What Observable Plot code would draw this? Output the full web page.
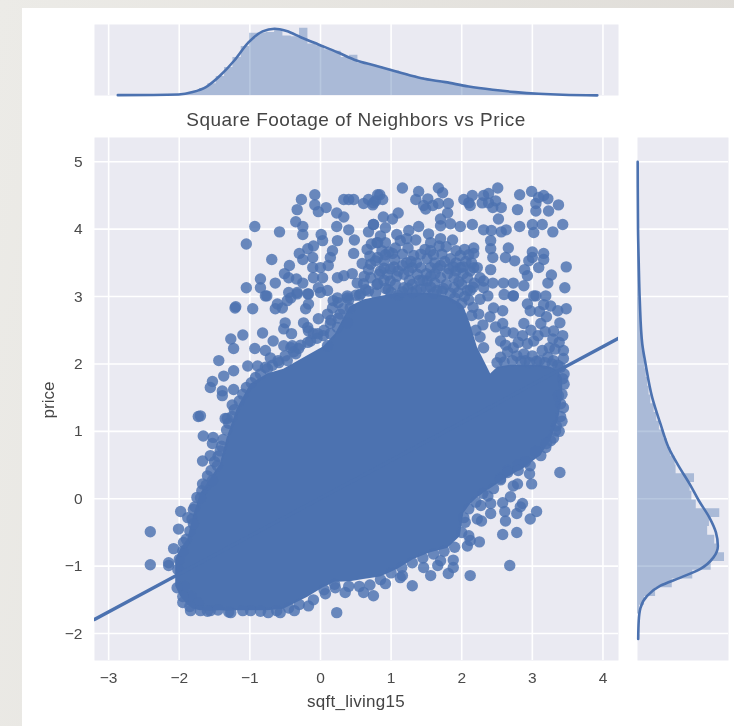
<!DOCTYPE html>
<html>
<head>
<meta charset="utf-8">
<script src="https://cdn.jsdelivr.net/npm/d3@7"></script>
<script src="https://cdn.jsdelivr.net/npm/@observablehq/plot@0.6"></script>
<style>
html,body{margin:0;padding:0;width:734px;height:726px;overflow:hidden;background:linear-gradient(100deg,#ecebe7,#dedbd6);}
#sheet{position:absolute;left:22px;top:8px;right:0;bottom:0;background:#fff;}
#stage{position:absolute;left:0;top:0;width:734px;height:726px;filter:blur(0.45px);font-family:"Liberation Sans",Arial,sans-serif;color:#444;}
#stage>div{position:absolute;margin:0;white-space:nowrap;}
#title{left:94px;top:109px;width:524px;text-align:center;font-size:19px;line-height:22px;letter-spacing:.48px;}
#xlabel{left:94px;top:692px;width:524px;text-align:center;font-size:17px;line-height:20px;letter-spacing:.25px;}
#ylabel{left:49px;top:400px;font-size:17px;line-height:20px;transform:translate(-50%,-50%) rotate(-90deg);}
</style>
</head>
<body>
<div id="sheet"></div>
<div id="stage">
  <div id="title">Square Footage of Neighbors vs Price</div>
  <div id="xlabel">sqft_living15</div>
  <div id="ylabel">price</div>
</div>
<script>
const BLUE = "#4c72b0", PANEL = "#eaeaf2";
const xTicks = [-3,-2,-1,0,1,2,3,4];
const yTicks = [-2,-1,0,1,2,3,4,5];
const xDomain = [-3.2,4.22], yDomain = [-2.4,5.36];
const regressionX = [-3.2,4.22];
const regressionY = [-1.79,2.38];

// envelope of the solid mass of overlapping points
const coreX =     [-2.05,-1.98,-1.88,-1.80,-1.70,-1.56,-1.42,-1.32,-1.18,-0.99,-0.75,-0.52,-0.18,0.04,0.21,0.42,0.61,0.85,1.09,1.32,1.56,1.80,1.98,2.03,2.12,2.22,2.34,2.41,2.51,2.69,2.88,3.12,3.26,3.37,3.43];
const coreLower = [-1.30,-1.45,-1.58,-1.64,-1.66,-1.67,-1.66,-1.67,-1.66,-1.66,-1.66,-1.64,-1.46,-1.32,-1.24,-1.23,-1.20,-1.16,-1.05,-0.90,-0.80,-0.74,-0.56,-0.22,-0.09,0.01,0.10,0.15,0.22,0.34,0.45,0.64,0.86,1.16,1.53];
const coreUpper = [-0.90,-0.75,-0.60,-0.26,0.07,0.29,0.51,0.91,1.33,1.70,1.85,1.92,2.12,2.25,2.44,2.85,2.95,3.00,3.05,3.05,3.05,3.00,2.90,2.85,2.60,2.25,2.00,1.85,1.95,1.98,1.98,1.98,1.95,1.90,1.78];

const upperLeftPoints = [[-0.93,4.04],[-1.05,3.78],[-0.58,3.96],[-0.69,3.55],[-1.05,3.13],[-0.85,3.26],[-0.85,3.13],[-0.76,3.01],[-0.64,3.20],[-0.44,3.46],[-0.51,3.34],[-0.45,3.28],[-0.34,3.26],[-0.45,3.06],[-0.25,3.20],[-0.35,4.11],[-0.33,4.29],[-0.27,4.44],[-0.08,4.51],[-0.08,4.36],[-0.03,4.26],[0.08,4.32],[-0.25,4.04],[-0.25,3.92],[0.01,3.92],[0.23,4.24],[0.33,4.18],[0.23,4.04],[0.40,3.99],[0.48,3.84],[0.68,3.96],[0.75,4.07],[0.40,4.44],[0.33,4.44],[0.47,4.44],[0.61,4.38],[0.68,4.44],[0.74,4.36],[0.81,4.51],[0.78,4.42],[0.03,3.83],[-0.10,3.75],[-0.18,3.71],[-0.30,3.64],[-0.25,3.55],[-0.11,3.58],[-0.11,3.43],[0,3.43],[0.14,3.58],[0.17,3.68],[0.24,3.83],[0.11,3.46],[-0.10,3.28],[0.03,3.28],[-0.03,3.13],[0.24,3.28],[0.33,3.31],[0.45,3.34],[0.47,3.64],[0.59,3.49],[0.81,3.80],[0.81,3.58],[-0.33,3.06],[0.61,3.19],[0.81,3.19],[0.57,3.04],[0.24,2.98],[0.38,3.01],[0.10,3.09],[-0.17,3.04],[0.85,3.38]];

const upperRightPoints = [[1.16,4.61],[1.39,4.56],[1.35,4.44],[1.52,4.45],[1.67,4.61],[1.73,4.54],[0.84,4.51],[0.88,4.44],[0.75,4.39],[1.46,4.35],[1.59,4.35],[1.49,4.30],[1.67,4.38],[1.81,4.38],[1.80,4.24],[2.03,4.44],[2.15,4.50],[2.10,4.39],[2.12,4.35],[2.31,4.50],[2.38,4.53],[2.51,4.61],[2.29,4.39],[2.38,4.39],[2.48,4.42],[2.44,4.32],[2.56,4.32],[2.52,4.15],[2.82,4.51],[2.99,4.56],[2.79,4.29],[3.05,4.38],[3.05,4.27],[3.16,4.50],[3.23,4.27],[3.37,4.36],[3.09,4.47],[3.22,4.45],[0.89,4.18],[1.10,4.24],[1.02,4.15],[0.75,4.07],[0.92,4.02],[1.25,3.98],[1.39,4.04],[1.53,3.93],[1.70,4.05],[1.70,4.15],[1.84,4.08],[1.98,4.04],[2.15,4.07],[2.31,3.99],[2.42,3.98],[2.56,3.96],[2.63,3.99],[2.82,4.04],[3.00,4.07],[3.02,3.95],[3.14,4.07],[3.29,3.96],[3.43,4.07],[1.35,3.84],[1.87,3.84],[1.70,3.86],[1.56,3.80],[2.41,3.83],[2.41,3.71],[2.44,3.58],[2.17,3.72],[2.17,3.64],[2.66,3.72],[2.62,3.58],[2.75,3.53],[3.00,3.66],[3.16,3.64],[3.16,3.55],[3.00,3.58],[2.95,3.53],[3.09,3.43],[3.48,3.44],[2.89,3.40],[2.93,3.31],[3.27,3.32],[3.22,3.20],[3.46,3.13],[2.41,3.40],[2.17,3.43],[2.31,3.23],[2.44,3.20],[2.59,3.20],[2.73,3.20],[2.88,3.16],[3.05,3.01],[3.19,3.01],[2.08,3.09],[2.37,3.01],[2.73,3.01]];

const denseTopPoints = [[0.80,3.80],[0.92,3.80],[0.87,3.68],[0.78,3.53],[0.90,3.53],[1.13,3.83],[1.16,3.63],[1.32,3.61],[1.42,3.63],[1.51,3.56],[1.68,3.75],[1.72,3.63],[1.84,3.56],[1.98,3.61],[1.16,3.46],[1.30,3.43],[1.42,3.43],[1.56,3.43],[1.70,3.46],[1.82,3.41],[1.98,3.43],[2.12,3.38],[2.22,3.43],[0.83,3.33],[0.99,3.23],[1.18,3.33],[1.37,3.33],[1.51,3.23],[1.70,3.28],[1.89,3.28],[2.08,3.28],[2.26,3.28],[0.99,3.41],[0.71,3.48],[0.71,3.28],[0.80,3.18],[1.18,3.13],[1.42,3.11],[1.65,3.09],[1.89,3.13],[2.12,3.09],[2.31,3.13],[2.60,3.03],
[0.85,3.90],[0.97,3.66],[1.05,3.55],[1.06,3.72],[1.24,3.72],[1.28,3.52],[1.48,3.70],[1.60,3.62],[1.62,3.50],[1.78,3.74],[1.92,3.50],[2.06,3.52],[2.10,3.62],[0.66,3.70],[0.70,3.60],[0.96,3.10],[1.08,3.30],[1.10,3.02],[1.26,3.24],[1.30,3.06],[1.45,3.24],[1.56,3.14],[1.62,3.34],[1.78,3.18],[1.80,3.34],[2.00,3.18],[2.18,3.20],[2.04,3.00],[1.90,2.98],[2.16,2.84],[2.26,2.96],[2.24,2.74],[2.30,2.58],[2.20,2.50],[2.26,2.40],[0.68,3.40],[0.95,3.32],[1.25,3.38],[1.56,3.30],[1.92,3.38],[2.02,3.34],
[0.62,3.30],[0.90,3.42],[1.04,3.44],[1.10,3.38],[1.22,3.50],[1.36,3.50],[1.40,3.24],[1.50,3.34],[1.66,3.42],[1.76,3.52],[1.88,3.44],[2.02,3.44],[2.14,3.50],[1.06,3.18],[1.30,3.18],[1.62,3.20],[1.74,3.12],[1.96,3.22],[2.16,3.14],[0.90,3.24],[0.64,3.10],[0.52,3.20],[0.92,3.62],[1.02,3.64],[1.08,3.92],[1.22,3.86],[1.56,3.68],[1.92,3.68],[2.04,3.70],[0.72,3.78],
[0.55,3.02],[0.68,3.08],[0.78,3.05],[0.92,3.12],[1.00,3.06],[1.16,3.07],[1.24,3.12],[1.36,3.09],[1.50,3.12],[1.60,3.05],[1.72,3.08],[1.84,3.05],[1.95,3.06],[2.10,2.95],[2.00,2.90],[2.14,2.72]];

const upperEdgePoints = [[-1.20,2.85],[-1.21,2.83],[-0.96,2.82],[-0.78,3.01],[-1.27,2.37],[-1.10,2.43],[-1.23,2.23],[-0.82,2.46],[-0.93,2.23],[-1.44,2.05],[-1.37,1.82],[-1.23,1.90],[-1.53,1.74],[-1.56,1.65],[-1.39,1.60],[-1.39,1.53],[-1.23,1.62],[-1.25,1.39],[-1.73,1.22],[-1.70,1.23],[-1.35,1.19],[-0.61,2.89],[-0.47,2.94],[-0.64,2.82],[-0.54,2.83],[-0.21,2.82],[-0.17,2.89],[-0.50,2.61],[-0.52,2.52],[-0.41,2.45],[-0.24,2.61],[-0.17,2.49],[-0.67,2.34],[-0.52,2.27],[-0.31,2.23],[-0.40,2.27],[-0.78,2.20],[-0.71,2.09],[-1.03,1.97],[-0.89,1.97],[-0.75,1.93],[-0.59,2.02],[-0.47,2.05],[-0.35,2.15],[0.17,2.83],[0.25,2.91],[0.10,2.74],[-0.03,2.67],[-0.04,2.45],[0.14,2.45],[-0.42,2.98],[-0.18,3.04],[-0.33,3.04],[0,3.06],[0.18,2.94],[0.38,2.98],[0.28,2.74],[0.14,2.60],[0.42,2.83],[-0.18,2.54],[-0.10,2.45],[0.04,2.42],[0.24,2.54],[0.38,2.61],[-0.42,2.24],[-0.14,2.34],[0.10,2.27],
[-2.02,-1.05],[-2.00,-0.90],[-1.95,-0.78],[-1.93,-1.30],[-1.90,-0.60],[-1.85,-0.48],[-1.82,-0.30],[-1.83,-1.45],[-1.78,-0.12],[-1.75,0.02],[-1.73,-1.55],[-1.68,0.12],[-1.62,0.20],[-1.60,0.34],[-1.55,0.42],[-1.50,0.55],[-1.45,0.63],[-1.40,0.78],[-1.38,0.88],[-1.33,1.02],[-1.30,1.12],[-1.25,1.22],[-1.22,1.32],[-1.15,1.45],[-1.10,1.55],[-1.05,1.65],[-0.98,1.72],[-0.92,1.80],[-0.85,1.85],[-0.78,1.95],[-0.68,1.98],[-0.60,2.05],[-0.50,2.12],[-0.38,2.18],[-0.28,2.28],[-0.18,2.32],[-0.05,2.38],[0.05,2.50],[0.15,2.65],[0.25,2.68],[0.32,2.82],[0.40,2.95],[0.50,3.02]];

const rightEdgePoints = [[3.26,2.86],[3.48,2.82],[3.36,2.79],[3.39,2.61],[3.12,2.60],[2.88,2.60],[3.43,2.42],[3.29,2.37],[3.30,2.49],[2.93,2.30],[3.02,2.34],[3.14,2.20],[3.44,2.20],[2.73,2.46],[2.58,2.60],[2.58,2.79],[2.45,2.83],[2.97,2.79],[2.93,2.89],[3.02,3.01],[2.73,3.01],[3.44,2.08],[3.40,1.41],[3.40,1.22],[2.31,2.24],[2.55,2.34],[2.73,2.24],[2.88,2.15],[3.26,0.86],[3.34,1.08],[3.12,0.64],[2.97,0.49],[3.19,0.76],[3.37,1.53],[3.43,1.78],[3.33,1.01],
[2.55,2.10],[2.65,2.18],[2.78,2.12],[2.90,2.05],[3.00,2.12],[3.10,2.05],[3.22,2.10],[3.30,2.05],[3.40,1.95],[3.45,1.85],[3.45,1.70],[3.42,1.55],[3.44,1.35],[3.42,1.15],[3.38,1.00],[3.30,0.90],[3.20,0.82],[3.05,0.70],[2.90,0.55],[2.80,0.50],[2.65,0.42],[2.55,0.30],
[2.40,2.70],[2.48,2.55],[2.62,2.48],[2.86,2.42],[2.98,2.50],[3.08,2.42],[3.18,2.48],[3.20,2.70],[3.10,2.78],[3.16,2.88],[3.38,2.32],[3.24,2.24],[3.32,2.22],[2.62,2.28],[2.80,2.32],
[2.50,2.02],[2.60,2.03],[2.72,2.05],[2.84,2.04],[2.96,2.02],[3.06,2.04],[3.18,2.02],[3.28,2.00],[3.36,1.98]];

const lowerLeftPoints = [[-2.41,-0.49],[-2.41,-0.98],[-2.15,-0.95],[-2.15,-0.99],[-2.01,-0.45],[-1.98,-0.19],[-2.08,-0.74],[-1.94,-0.65],[-2.03,-1.32],[-1.95,-1.54],[-1.88,-0.28],[-1.80,-0.37],[-1.66,0.93],[-1.52,0.91],[-1.53,0.82],[-1.32,1.19],[-1.42,0.71],[-1.56,0.64],[-1.67,0.56],[-1.67,0.22],[-1.46,0.49],[-1.53,0.27],[-1.70,0.01],[-1.80,-0.16]];

const lowerEdgePoints = [[0.23,-1.69],[-0.37,-1.66],[-0.17,-1.59],[-0.57,-1.69],[-0.74,-1.69],[-1.27,-1.69],[-0.99,-1.66],[-1.70,-1.66],[-1.56,-1.66],[-1.84,-1.66],[0.92,-1.26],[0.75,-1.44],[0.61,-1.39],[0.35,-1.39],[0.21,-1.32],[0.07,-1.41],[1.13,-1.17],[1.30,-1.29],[2.12,-1.14],[2.68,-0.99],[1.56,-1.14],[1.81,-1.11],[1.16,-1.14],[1.88,-1.02],[1.88,-0.91],[1.66,-0.99],[1.46,-1.02],[1.70,-0.92],[2.08,-0.70],[2.12,-0.62],[2.25,-0.64],[2.10,-0.55],[2.58,-0.53],[2.78,-0.50],[2.97,-0.30],[3.06,-0.19],[2.78,-0.22],[2.62,-0.33],[2.61,-0.19],[2.28,-0.33],[2.22,-0.30],[2.41,-0.22],[2.03,-0.28],[2.86,-0.07],[2.83,-0.12],[2.69,0.03],[2.58,-0.06],[2.79,0.22],[2.73,0.19],[2.99,0.22],[2.96,0.37],[2.80,0.42],[2.65,0.39],[3.39,0.39],[2.41,-0.07],[2.27,-0.10],[2.37,0.04],
[-1.95,-1.45],[-1.85,-1.60],[-1.60,-1.67],[-1.45,-1.65],[-1.30,-1.68],[-1.10,-1.66],[-0.85,-1.67],[-0.62,-1.66],[-0.45,-1.62],[-0.30,-1.57],[-0.10,-1.50],[0.05,-1.35],[0.20,-1.27],[0.40,-1.30],[0.55,-1.30],[0.70,-1.28],[0.85,-1.20],[1.00,-1.10],[1.15,-1.02],[1.30,-0.95],[1.45,-0.88],[1.60,-0.82],[1.75,-0.78],[1.90,-0.72],[2.00,-0.50],[2.05,-0.35],[2.10,-0.15],[2.20,-0.05],[2.30,0.08],[2.45,0.15],[2.55,0.28]];

const scatterGroups = [upperLeftPoints, upperRightPoints, denseTopPoints, upperEdgePoints, rightEdgePoints, lowerLeftPoints, lowerEdgePoints];

// top marginal (sqft_living15 density)
const topKdeX = [-2.87,-2.01,-1.81,-1.61,-1.42,-1.22,-1.02,-0.82,-0.65,-0.48,-0.28,-0.03,0.24,0.51,0.77,1.11,1.43,1.77,2.10,2.44,2.76,3.09,3.43,3.92];
const topKdeD = [0.002,0.006,0.02,0.053,0.118,0.207,0.314,0.379,0.395,0.381,0.345,0.302,0.256,0.207,0.178,0.138,0.102,0.079,0.053,0.034,0.020,0.010,0.004,0.001];
const topBinStart = -2.42, topBinWidth = 0.118;
const topBinD = [0.001,0.001,0.002,0.003,0.010,0.022,0.041,0.070,0.112,0.165,0.225,0.29,0.368,0.370,0.372,0.385,0.352,0.348,0.398,0.305,0.295,0.27,0.262,0.225,0.238,0.19,0.182,0.172,0.155,0.145,0.13,0.115,0.105,0.095,0.088,0.078,0.068,0.06,0.05,0.044,0.038,0.032,0.027,0.023,0.017,0.014,0.011,0.008,0.006,0.004];

// right marginal (price density)
const rightKdeY = [5,4,3.5,2.94,2.30,2.0,1.50,1.11,0.76,0.44,0.22,-0.03,-0.28,-0.50,-0.70,-0.87,-1.04,-1.17,-1.29,-1.44,-1.62,-1.81,-2.08];
const rightKdeD = [0.001,0.003,0.007,0.013,0.027,0.046,0.084,0.131,0.177,0.245,0.297,0.35,0.41,0.447,0.458,0.433,0.359,0.245,0.131,0.055,0.017,0.007,0.004];
const rightBinStart = -1.71, rightBinWidth = 0.13;
const rightBinD = [0.012,0.04,0.103,0.198,0.315,0.42,0.496,0.454,0.44,0.40,0.41,0.469,0.335,0.31,0.30,0.325,0.22,0.215,0.19,0.17,0.15,0.125,0.11,0.095,0.076,0.066,0.058,0.05,0.042,0.036,0.028,0.024,0.02,0.018,0.016,0.014,0.012,0.010,0.008,0.007,0.006,0.005,0.004,0.003,0.002,0.002,0.001,0.001,0.001];

const coreTable = coreX.map((x,i)=>({x, lo:coreLower[i], hi:coreUpper[i]}));
const scatter = scatterGroups.flat().map(([x,y])=>({x,y}));
const topKde = topKdeX.map((x,i)=>({x,d:topKdeD[i]}));
const topSteps = topBinD.flatMap((d,i)=>[{x:topBinStart+i*topBinWidth,d},{x:topBinStart+(i+1)*topBinWidth,d}]);
const rightKde = rightKdeY.map((y,i)=>({y,d:rightKdeD[i]}));
const rightSteps = rightBinD.flatMap((d,i)=>[{y:rightBinStart+i*rightBinWidth,d},{y:rightBinStart+(i+1)*rightBinWidth,d}]);
const regression = regressionX.map((x,i)=>({x,y:regressionY[i]}));

const baseStyle = {background:"transparent", fontFamily:'"Liberation Sans",Arial,sans-serif', overflow:"visible"};
const grid = {stroke:"white", strokeOpacity:1, strokeWidth:1.6};
const stage = document.getElementById("stage");
function place(svg,left,top){svg.style.left=left+"px";svg.style.top=top+"px";svg.style.position="absolute";stage.appendChild(svg);}
const intLabel = d => d<0 ? "\u2212"+(-d) : String(d);

const main = Plot.plot({
  width:618, height:589, marginLeft:94, marginRight:0, marginTop:0, marginBottom:66,
  style:{...baseStyle, fontSize:"15.5px", color:"#4a4a4a"},
  x:{domain:xDomain, label:null},
  y:{domain:yDomain, label:null},
  marks:[
    Plot.frame({fill:PANEL, stroke:"none"}),
    Plot.gridX(xTicks, grid),
    Plot.gridY(yTicks, grid),
    Plot.areaY(coreTable,{x:"x",y1:"lo",y2:"hi",fill:BLUE}),
    Plot.dot(scatter,{x:"x",y:"y",r:5.7,fill:BLUE,fillOpacity:0.82,stroke:"none"}),
    Plot.line(regression,{x:"x",y:"y",stroke:BLUE,strokeWidth:3.4,clip:true}),
    Plot.axisX(xTicks,{tickSize:0,tickPadding:11,label:null,tickFormat:intLabel,fontSize:15.5}),
    Plot.axisY(yTicks,{tickSize:0,tickPadding:12,label:null,tickFormat:intLabel,fontSize:15.5})
  ]
});
place(main,0,137);

const top_ = Plot.plot({
  width:618, height:71, marginLeft:94, marginRight:0, marginTop:0, marginBottom:0,
  style:baseStyle,
  x:{domain:xDomain, axis:null},
  y:{domain:[0,0.42], axis:null},
  marks:[
    Plot.frame({fill:PANEL, stroke:"none"}),
    Plot.gridX(xTicks, grid),
    Plot.areaY(topSteps,{x:"x",y1:()=>0,y2:"d",fill:BLUE,fillOpacity:0.4}),
    Plot.line(topKde,{x:"x",y:"d",stroke:BLUE,strokeWidth:2.6,curve:"monotone-x"})
  ]
});
place(top_,0,24);

const right_ = Plot.plot({
  width:91, height:523, marginLeft:0, marginRight:0, marginTop:0, marginBottom:0,
  style:baseStyle,
  x:{domain:[0,0.5187], axis:null},
  y:{domain:yDomain, axis:null},
  marks:[
    Plot.frame({fill:PANEL, stroke:"none"}),
    Plot.gridY(yTicks, grid),
    Plot.areaX(rightSteps,{y:"y",x1:()=>0,x2:"d",fill:BLUE,fillOpacity:0.4}),
    Plot.line(rightKde,{x:"d",y:"y",stroke:BLUE,strokeWidth:2.6,curve:"monotone-y"})
  ]
});
place(right_,637,137);
</script>
</body>
</html>
